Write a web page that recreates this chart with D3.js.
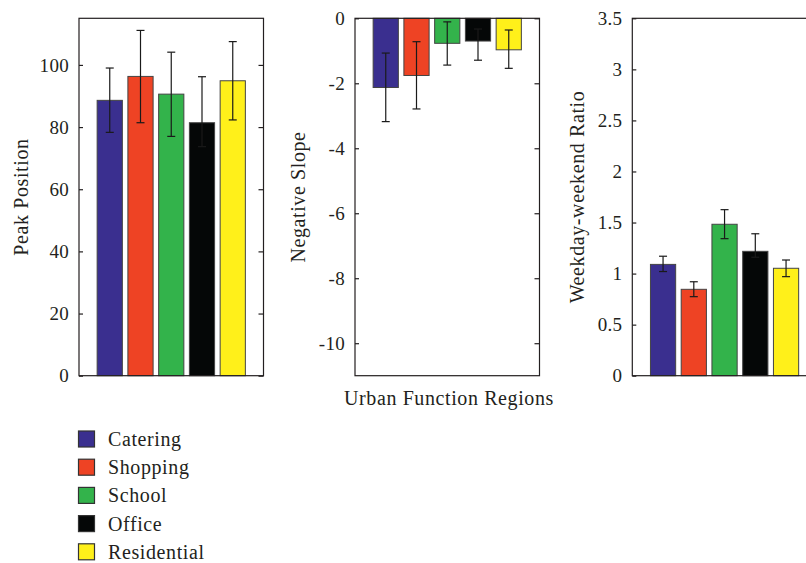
<!DOCTYPE html>
<html><head><meta charset="utf-8">
<script src="https://cdn.jsdelivr.net/npm/d3@7"></script>
<style>
html,body{margin:0;padding:0;background:#fff;overflow:hidden;}
text{font-family:"Liberation Serif","DejaVu Serif",serif;fill:#231f20;}
</style></head>
<body><svg id="chart" width="806" height="563"></svg>
<script>
const categories = ["Catering","Shopping","School","Office","Residential"];
const colors = ["#3a2f8f","#ee4324","#33b34b","#050707","#fff01a"];

const peakValues = [88.6, 96.3, 90.6, 81.4, 94.9];
const peakLower  = [78.3, 81.4, 77.0, 73.7, 82.3];
const peakUpper  = [99.0, 111.1, 104.1, 96.2, 107.5];
const peakTicks  = [0, 20, 40, 60, 80, 100];

const slopeValues = [-2.13, -1.76, -0.77, -0.70, -0.97];
const slopeLower  = [-3.18, -2.79, -1.44, -1.29, -1.54];
const slopeUpper  = [-1.07, -0.72, -0.11, -0.33, -0.36];
const slopeTicks  = [0, -2, -4, -6, -8, -10];

const ratioValues = [1.09, 0.846, 1.483, 1.218, 1.052];
const ratioLower  = [1.02, 0.774, 1.342, 1.16, 0.97];
const ratioUpper  = [1.17, 0.92, 1.626, 1.39, 1.133];
const ratioTicks  = [0, 0.5, 1, 1.5, 2, 2.5, 3, 3.5];

const svg = d3.select("#chart");
const plotTop = 18.3, plotBottom = 375.7, pw = 184.5;
const fsTick = 19, fsLabel = 20, ls = "0.6px";

const panels = [
  {left:79, domain:[0,115], vals:peakValues, lo:peakLower, hi:peakUpper, ticks:peakTicks, title:"Peak Position", tx:21},
  {left:355, domain:[-11,0], vals:slopeValues, lo:slopeLower, hi:slopeUpper, ticks:slopeTicks, title:"Negative Slope", tx:298},
  {left:632.3, domain:[0,3.5], vals:ratioValues, lo:ratioLower, hi:ratioUpper, ticks:ratioTicks, title:"Weekday-weekend Ratio", tx:577}
];

panels.forEach((p, pi) => {
  const x = d3.scaleLinear().domain([0,6]).range([p.left, p.left+pw]);
  const y = d3.scaleLinear().domain(p.domain).range([plotBottom, plotTop]);
  const g = svg.append("g");
  const bw = x(0.82) - x(0);
  g.selectAll("rect.bar").data(p.vals).enter().append("rect")
    .attr("class","bar")
    .attr("x",(d,i)=>x(i+1)-bw/2)
    .attr("width",bw)
    .attr("y",d=>Math.min(y(0),y(d)))
    .attr("height",d=>Math.abs(y(0)-y(d)))
    .attr("fill",(d,i)=>colors[i])
    .attr("stroke","#444").attr("stroke-width",1);
  const eg = g.selectAll("g.err").data(p.vals).enter().append("g")
    .attr("stroke","#1a1a1a").attr("stroke-width",1.2);
  eg.append("line").attr("x1",(d,i)=>x(i+1)).attr("x2",(d,i)=>x(i+1))
    .attr("y1",(d,i)=>y(p.lo[i])).attr("y2",(d,i)=>y(p.hi[i]));
  eg.append("line").attr("x1",(d,i)=>x(i+1)-4).attr("x2",(d,i)=>x(i+1)+4)
    .attr("y1",(d,i)=>y(p.lo[i])).attr("y2",(d,i)=>y(p.lo[i]));
  eg.append("line").attr("x1",(d,i)=>x(i+1)-4).attr("x2",(d,i)=>x(i+1)+4)
    .attr("y1",(d,i)=>y(p.hi[i])).attr("y2",(d,i)=>y(p.hi[i]));
  g.append("rect").attr("x",p.left).attr("y",plotTop).attr("width",pw).attr("height",plotBottom-plotTop)
    .attr("fill","none").attr("stroke","#231f20").attr("stroke-width",1.2);
  const ax = d3.axisLeft(y).tickValues(p.ticks).tickSizeInner(-4).tickSizeOuter(0).tickPadding(10).tickFormat(d=>String(d));
  const axg = g.append("g").attr("transform",`translate(${p.left},0)`).call(ax);
  axg.select(".domain").remove();
  axg.selectAll("line").attr("stroke","#231f20").attr("stroke-width",1.2);
  axg.selectAll("text").attr("font-size",fsTick).attr("font-family","Liberation Serif")
    .attr("fill","#231f20").style("letter-spacing","0.3px");
  const ar = d3.axisLeft(y).tickValues(p.ticks).tickSize(5).tickFormat("");
  const arg = g.append("g").attr("transform",`translate(${p.left+pw},0)`).call(ar);
  arg.select(".domain").remove();
  arg.selectAll("line").attr("stroke","#231f20").attr("stroke-width",1.2);
  g.append("text").attr("transform",`translate(${p.tx},197) rotate(-90)`)
    .attr("text-anchor","middle").attr("dominant-baseline","central")
    .attr("font-size",fsLabel).style("letter-spacing",ls).text(p.title);
});

svg.append("text").attr("x",449).attr("y",405).attr("text-anchor","middle")
  .attr("font-size",fsLabel).style("letter-spacing",ls).text("Urban Function Regions");

const lg = svg.append("g");
categories.forEach((c,i)=>{
  const cy = 439 + i*28.2;
  lg.append("rect").attr("x",78.5).attr("y",cy-8).attr("width",16).attr("height",16)
    .attr("fill",colors[i]).attr("stroke","#333").attr("stroke-width",1.2);
  lg.append("text").attr("x",108).attr("y",cy).attr("dominant-baseline","central")
    .attr("font-size",fsLabel).style("letter-spacing",ls).text(c);
});
</script></body></html>
